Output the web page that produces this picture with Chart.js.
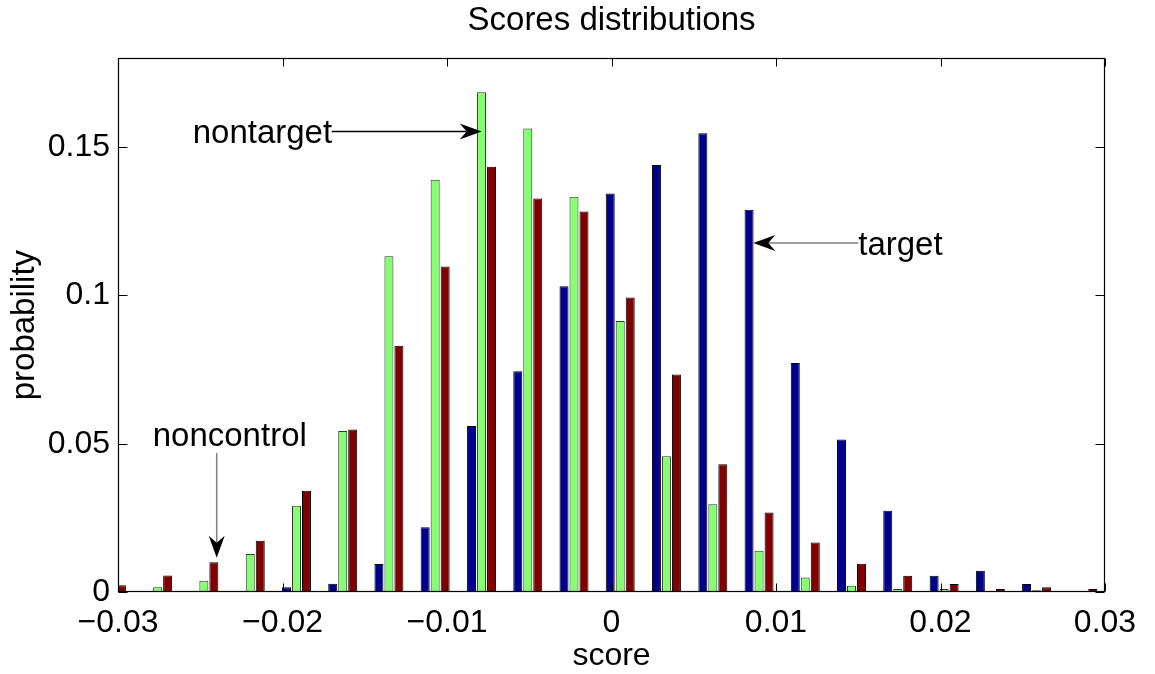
<!DOCTYPE html>
<html lang="en">
<head>
  <meta charset="UTF-8" />
  <title>Scores distributions</title>
  <script src="https://cdn.jsdelivr.net/npm/chart.js"></script>
  <style>
    body {
      margin: 0;
      background: #fff;
    }
    #wrap {
      width: 1155px;
      height: 674px;
    }
  </style>
</head>
<body>
  <div id="wrap">
    <canvas id="scores" width="1155" height="674"></canvas>
  </div>

  <script>
    // histogram bin centres (score) and probabilities per class
    const binCenters = [-0.03040, -0.02759, -0.02478, -0.02196, -0.01915, -0.01634, -0.01353, -0.01072,
                        -0.00790, -0.00509, -0.00228, 0.00053, 0.00334, 0.00616, 0.00897, 0.01178,
                        0.01459, 0.01740, 0.02022, 0.02303, 0.02584, 0.02865];
    const target = [0, 0, 0, 0, 0.0016, 0.0028, 0.0094, 0.0218, 0.0560, 0.0744, 0.1031,
                    0.1344, 0.1440, 0.1547, 0.1289, 0.0772, 0.0514, 0.0274, 0.0055, 0.0072, 0.0027, 0.0002];
    const nontarget = [0, 0.0016, 0.0038, 0.0128, 0.0291, 0.0543, 0.1132, 0.1390, 0.1685, 0.1563, 0.1333,
                       0.0914, 0.0458, 0.0296, 0.0139, 0.0049, 0.0021, 0.0010, 0.0010, 0, 0.0006, 0];
    const noncontrol = [0.0023, 0.0056, 0.0100, 0.0173, 0.0341, 0.0548, 0.0830, 0.1098, 0.1434, 0.1327, 0.1283,
                        0.0993, 0.0733, 0.0431, 0.0268, 0.0167, 0.0095, 0.0055, 0.0027, 0.0010, 0.0016, 0.0010];
    const xTicks = [-0.03, -0.02, -0.01, 0, 0.01, 0.02, 0.03];
    const yTicks = [0, 0.05, 0.1, 0.15];

    // text arrows, in data units
    const notes = [
      { text: 'nontarget', tx: -0.02546, ty: 0.1514, from: [-0.01701, 0.1553], to: [-0.00789, 0.1553], line: '#000' },
      { text: 'target', tx: 0.01500, ty: 0.1135, from: [0.01500, 0.1177], to: [0.00862, 0.1177], line: '#808080' },
      { text: 'noncontrol', tx: -0.02789, ty: 0.04928, from: [-0.02400, 0.04692], to: [-0.02400, 0.01155], line: '#808080' }
    ];

    const FONT = "'Liberation Sans', Arial, Helvetica, sans-serif";
    Chart.defaults.font.family = FONT;
    Chart.defaults.color = '#000';

    function fmt(v) {
      if (Math.abs(v) < 1e-12) return '0';
      return (v < 0 ? '\u2212' : '') + String(Math.abs(v));
    }

    function arrowHead(ctx, x0, y0, x1, y1) {
      const ang = Math.atan2(y1 - y0, x1 - x0);
      const len = 22, half = 8, notch = 15;
      ctx.save();
      ctx.translate(x1, y1);
      ctx.rotate(ang);
      ctx.beginPath();
      ctx.moveTo(0, 0);
      ctx.lineTo(-len, -half);
      ctx.lineTo(-notch, 0);
      ctx.lineTo(-len, half);
      ctx.closePath();
      ctx.fillStyle = '#000';
      ctx.fill();
      ctx.restore();
    }

    const framePlugin = {
      id: 'frame',
      afterDatasetsDraw(chart) {
        const ctx = chart.ctx;
        const a = chart.chartArea;
        const xs = chart.scales.x, ys = chart.scales.y;
        const L = Math.round(a.left) + 0.5, R = Math.round(a.right) - 0.5;
        const T = Math.round(a.top) + 0.5, B = Math.round(a.bottom) - 0.5;
        ctx.save();
        ctx.strokeStyle = '#000';
        ctx.lineWidth = 1.2;
        ctx.strokeRect(L, T, R - L, B - T);
        ctx.beginPath();
        xTicks.forEach(v => {
          const px = Math.round(xs.getPixelForValue(v)) + 0.5;
          ctx.moveTo(px, B); ctx.lineTo(px, B - 8);
          ctx.moveTo(px, T); ctx.lineTo(px, T + 8);
        });
        yTicks.forEach(v => {
          const py = Math.round(ys.getPixelForValue(v)) + 0.5;
          ctx.moveTo(L, py); ctx.lineTo(L + 9, py);
          ctx.moveTo(R, py); ctx.lineTo(R - 9, py);
        });
        ctx.lineWidth = 1;
        ctx.stroke();

        // annotations
        ctx.font = '33px ' + FONT;
        ctx.textBaseline = 'alphabetic';
        ctx.textAlign = 'left';
        notes.forEach(n => {
          const x0 = xs.getPixelForValue(n.from[0]), y0 = ys.getPixelForValue(n.from[1]);
          const x1 = xs.getPixelForValue(n.to[0]), y1 = ys.getPixelForValue(n.to[1]);
          const d = Math.hypot(x1 - x0, y1 - y0);
          const ex = x1 - (x1 - x0) / d * 15, ey = y1 - (y1 - y0) / d * 15;
          ctx.beginPath();
          ctx.strokeStyle = n.line;
          ctx.lineWidth = 1.5;
          ctx.moveTo(x0, y0);
          ctx.lineTo(ex, ey);
          ctx.stroke();
          arrowHead(ctx, x0, y0, x1, y1);
          ctx.fillStyle = '#000';
          ctx.fillText(n.text, xs.getPixelForValue(n.tx), ys.getPixelForValue(n.ty));
        });
        ctx.restore();
      }
    };

    const toPoints = vals => binCenters.map((x, i) => ({ x: x, y: vals[i] }));

    const barStyle = {
      borderWidth: 1,
      borderColor: '#000',
      borderSkipped: false,
      categoryPercentage: 0.6485,
      barPercentage: 0.9,
      clip: 0
    };

    new Chart(document.getElementById('scores'), {
      type: 'bar',
      data: {
        datasets: [
          { label: 'target', data: toPoints(target), backgroundColor: '#00008F', ...barStyle },
          { label: 'nontarget', data: toPoints(nontarget), backgroundColor: '#86FF70', ...barStyle, borderColor: '#333' },
          { label: 'noncontrol', data: toPoints(noncontrol), backgroundColor: '#800000', ...barStyle }
        ]
      },
      options: {
        responsive: false,
        animation: false,
        layout: { padding: { top: 0, right: 50, bottom: 0, left: 0 } },
        plugins: {
          legend: { display: false },
          tooltip: { enabled: false },
          title: {
            display: true,
            text: 'Scores distributions',
            fullSize: false,
            font: { size: 33, weight: 'normal', lineHeight: 1.2 },
            color: '#000',
            padding: { top: 1, bottom: 17.6 }
          }
        },
        scales: {
          x: {
            type: 'linear',
            min: -0.03,
            max: 0.03,
            offset: false,
            grid: { display: false, drawTicks: false },
            border: { display: false },
            afterBuildTicks: s => { s.ticks = xTicks.map(v => ({ value: v })); },
            afterFit: s => { s.height = 82; },
            ticks: {
              padding: 12,
              maxRotation: 0,
              autoSkip: false,
              font: { size: 32, lineHeight: 1.2 },
              callback: v => fmt(v)
            },
            title: {
              display: true,
              text: 'score',
              font: { size: 32, lineHeight: 1 },
              padding: { top: 0, bottom: 2 }
            }
          },
          y: {
            min: 0,
            max: 0.18,
            grid: { display: false, drawTicks: false },
            border: { display: false },
            afterBuildTicks: s => { s.ticks = yTicks.map(v => ({ value: v })); },
            afterFit: s => { s.width = 118; },
            ticks: {
              padding: 8,
              font: { size: 32 },
              callback: v => fmt(v)
            },
            title: {
              display: true,
              text: 'probability',
              font: { size: 33, lineHeight: 1 },
              padding: { top: 8, bottom: 0 }
            }
          }
        }
      },
      plugins: [framePlugin]
    });
  </script>
</body>
</html>
